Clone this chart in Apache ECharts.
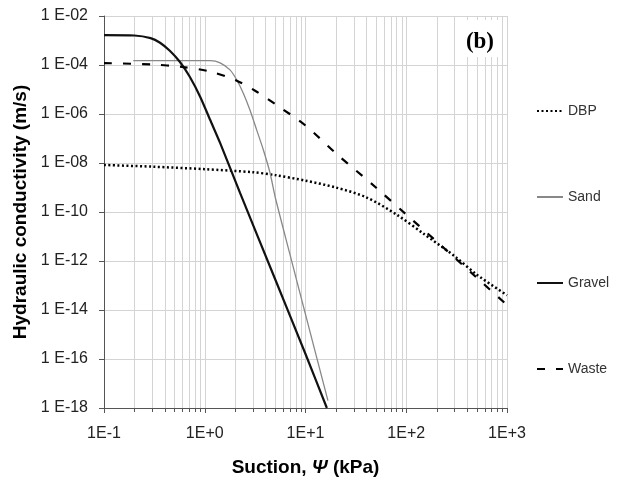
<!DOCTYPE html>
<html>
<head>
<meta charset="utf-8">
<script src="https://cdn.jsdelivr.net/npm/echarts@6/dist/echarts.min.js"></script>
<style>
  html, body { margin: 0; padding: 0; background: #fff; }
  #chart { width: 621px; height: 489px; }
</style>
</head>
<body>
<div id="chart"></div>
<script>
// suction (kPa) / hydraulic conductivity (m/s)
const dbp = [[0.1, 8.3e-9], [0.3, 7.1e-9], [1, 5.6e-9], [3, 4.2e-9], [5, 3.2e-9], [10, 1.9e-9],
  [20, 1e-9], [40, 4e-10], [80, 7.9e-11], [150, 1.26e-11], [300, 1.6e-12], [500, 2.8e-13], [1000, 4e-14]];
const sand = [[0.195, 1.52e-4], [0.5, 1.52e-4], [1.13, 1.5e-4], [1.42, 1.23e-4], [1.78, 6.3e-5], [2.08, 2.45e-5],
  [2.42, 6.9e-6], [2.81, 1.45e-6], [3.28, 2.2e-7], [3.82, 3.4e-8], [4.45, 3.9e-9], [5, 4.1e-10],
  [7, 1.9e-12], [10, 6.6e-15], [16.7, 2e-18]];
const gravel = [[0.1, 1.66e-3], [0.2, 1.6e-3], [0.29, 1.25e-3], [0.36, 8.1e-4], [0.45, 3.8e-4], [0.57, 1.3e-4],
  [0.71, 3.3e-5], [0.9, 5.1e-6], [1.13, 5.8e-7], [1.42, 6.6e-8], [2.24, 6e-10], [5, 1.8e-13],
  [10, 1.6e-16], [16.3, 1e-18]];
const waste = [[0.1, 1.2e-4], [0.3, 1.05e-4], [0.6, 8.3e-5], [1.13, 5.4e-5], [2.08, 2.3e-5], [3.28, 8.1e-6],
  [5.18, 2.3e-6], [10, 3.4e-7], [20, 2.5e-8], [50, 1e-9], [100, 7.9e-11], [200, 6.3e-12], [500, 2.1e-13],
  [1000, 1.6e-14]];

// minor vertical grid lines of the log x axis
const minorX = [0.2, 0.3, 0.4, 0.5, 0.6, 0.7, 0.8, 0.9, 2, 3, 4, 5, 6, 7, 8, 9,
  20, 30, 40, 50, 60, 70, 80, 90, 200, 300, 400, 500, 600, 700, 800, 900];

const font = 'Liberation Sans';
const gridColor = '#d4d4d4';
const axisColor = '#555';
const yMin = 1e-18, yMax = 1e-2;

function expLabel(v, sep) {
  const e = Math.round(Math.log10(v));
  const sign = e < 0 ? '-' : '+';
  return sep ? '1 E' + sign + String(Math.abs(e)).padStart(2, '0') : '1E' + sign + Math.abs(e);
}

// minor grid line plus a small tick under the axis
function renderMinor(params, api) {
  const x = api.value(0);
  const top = api.coord([x, yMax]);
  const bot = api.coord([x, yMin]);
  const px = Math.round(top[0]) + 0.5;
  return {
    type: 'group',
    children: [
      { type: 'line', shape: { x1: px, y1: top[1], x2: px, y2: bot[1] }, style: { stroke: gridColor, lineWidth: 1 } },
      { type: 'line', shape: { x1: px, y1: bot[1], x2: px, y2: bot[1] + 4 }, style: { stroke: axisColor, lineWidth: 1 } }
    ]
  };
}

const chart = echarts.init(document.getElementById('chart'));
chart.setOption({
  backgroundColor: '#fff',
  animation: false,
  title: {
    text: '(b)',
    right: 123,
    top: 20,
    padding: [11, 4, 3, 4],
    backgroundColor: '#fff',
    textStyle: { fontFamily: 'Liberation Serif', fontWeight: 'bold', fontSize: 23, color: '#000' }
  },
  legend: {
    orient: 'vertical',
    left: 531,
    top: 99,
    itemWidth: 26,
    itemHeight: 14,
    itemGap: 72,
    itemStyle: { opacity: 0 },
    data: ['DBP', 'Sand', 'Gravel', 'Waste'],
    textStyle: { fontFamily: font, fontSize: 14, color: '#333' }
  },
  grid: { left: 104, top: 16, right: 114, bottom: 81 },
  xAxis: {
    type: 'log',
    logBase: 10,
    min: 0.1,
    max: 1000,
    name: '{b|Suction, }{i|Ψ}{b| (kPa)}',
    nameLocation: 'middle',
    nameGap: 50,
    nameTextStyle: {
      rich: {
        b: { fontFamily: font, fontWeight: 'bold', fontSize: 19, color: '#000' },
        i: { fontFamily: font, fontWeight: 'bold', fontStyle: 'italic', fontSize: 19, color: '#000' }
      }
    },
    axisLine: { lineStyle: { color: axisColor, width: 1 } },
    axisTick: { show: true, length: 5, lineStyle: { color: axisColor } },
    axisLabel: { fontFamily: font, fontSize: 16, color: '#222', margin: 18, formatter: v => expLabel(v, false) },
    splitLine: { show: true, lineStyle: { color: gridColor, width: 1 } }
  },
  yAxis: {
    type: 'log',
    logBase: 10,
    min: yMin,
    max: yMax,
    interval: 2,
    name: 'Hydraulic conductivity (m/s)',
    nameLocation: 'middle',
    nameGap: 72,
    nameTextStyle: { fontFamily: font, fontWeight: 'bold', fontSize: 19, color: '#000' },
    axisLine: { show: true, lineStyle: { color: axisColor, width: 1 } },
    axisTick: { show: true, length: 5, lineStyle: { color: axisColor } },
    axisLabel: { fontFamily: font, fontSize: 16, color: '#222', margin: 16, formatter: v => expLabel(v, true) },
    splitLine: { show: true, lineStyle: { color: gridColor, width: 1 } }
  },
  series: [
    {
      name: 'minor',
      type: 'custom',
      silent: true,
      clip: false,
      z: 1,
      renderItem: renderMinor,
      data: minorX.map(x => [x, yMin])
    },
    {
      name: 'DBP', type: 'line', data: dbp, symbol: 'none', smooth: 0.3, z: 3,
      lineStyle: { color: '#000', width: 2.5, type: [2, 2.5] }, itemStyle: { color: '#000' }
    },
    {
      name: 'Sand', type: 'line', data: sand, symbol: 'none', smooth: 0.25, z: 3,
      lineStyle: { color: '#888', width: 1.3 }, itemStyle: { color: '#888' }
    },
    {
      name: 'Gravel', type: 'line', data: gravel, symbol: 'none', smooth: 0.25, z: 3,
      lineStyle: { color: '#111', width: 2.2 }, itemStyle: { color: '#111' }
    },
    {
      name: 'Waste', type: 'line', data: waste, symbol: 'none', smooth: 0.3, z: 3,
      lineStyle: { color: '#000', width: 2.2, type: [8, 11] }, itemStyle: { color: '#000' }
    }
  ]
});
</script>
</body>
</html>
